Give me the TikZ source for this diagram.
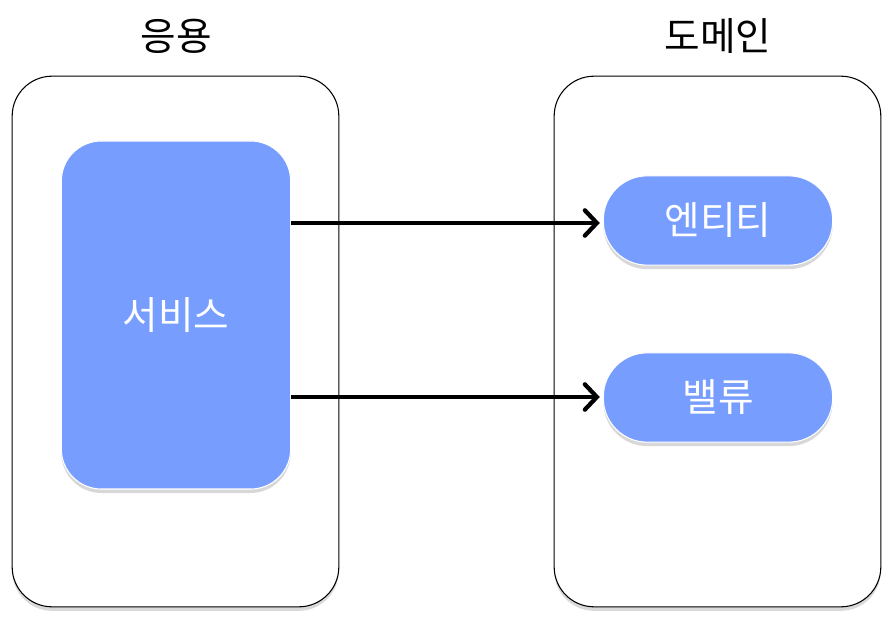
\documentclass[tikz,border=0pt]{standalone}
\usepackage{fontspec}
\setmainfont{Noto Sans CJK KR}
\usetikzlibrary{positioning, arrows.meta, calc, shadows}
\definecolor{layerblue}{HTML}{779DFF}
\definecolor{shadowgray}{HTML}{808080}

\begin{document}
\begin{tikzpicture}[x=0.75pt, y=-0.75pt,
    layer/.style={draw=black, fill=white, line width=0.8pt, rounded corners=30pt,
      minimum width=245pt, minimum height=398pt,
      drop shadow={shadow xshift=0pt, shadow yshift=-3pt, opacity=0.3, fill=shadowgray}},
    part/.style={draw=white, fill=layerblue, line width=0.8pt, text=white,
      font=\fontsize{29}{34}\selectfont, minimum width=172pt,
      drop shadow={shadow xshift=0pt, shadow yshift=-3pt, opacity=0.3, fill=shadowgray}},
    title/.style={font=\fontsize{29}{34}\selectfont}]
    \useasboundingbox (0,0) rectangle (894,624);
    % layers
    \node[layer] (app) at (175.5,341.5) {};
    \node[layer] (domain) at (717.5,341.5) {};
    \node[title] (apptitle) at (176,36) {응용};
    \node[title] (domaintitle) at (718,36) {도메인};
    % parts
    \node[part, rounded corners=30pt, minimum height=261pt] (service) at (176,315) {서비스};
    \node[part, rounded corners=33pt, minimum height=67pt] (entity) at (718,220.5) {엔티티};
    \node[part, rounded corners=33pt, minimum height=67pt] (value) at (718,397.5) {밸류};
    % dependencies
    \draw[line width=3.2pt, -{Straight Barb[length=9pt, width=19pt, line cap=round]}]
      (service.east |- 0,223) -- ($(entity.west |- 0,223)+(-3,0)$);
    \draw[line width=3.2pt, -{Straight Barb[length=9pt, width=19pt, line cap=round]}]
      (service.east |- 0,397) -- ($(value.west |- 0,397)+(-3,0)$);
  \end{tikzpicture}
\end{document}
